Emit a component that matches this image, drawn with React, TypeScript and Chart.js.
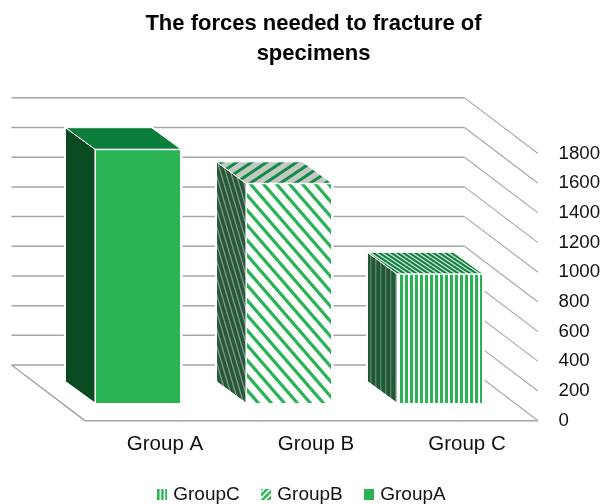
import React, { useEffect, useRef } from "react";
import { Chart, registerables } from "chart.js";

Chart.register(...registerables);

const titleLines = ["The forces needed to fracture of", "specimens"];
const categories = ["Group A", "Group B", "Group C"];
const groupNames = ["GroupA", "GroupB", "GroupC"];
const groupAValues = [1710, null, null];
const groupBValues = [null, 1480, null];
const groupCValues = [null, null, 870];

const FONT = "'Liberation Sans', Arial, sans-serif";
// depth of the 3D projection, in pixels
const BAR_DX = 29.5;
const BAR_DY = 21.5;
const FLOOR_FRONT_DX = 22.5;
const FLOOR_FRONT_DY = 17.7;
const FLOOR_BACK_DX = 51;
const FLOOR_BACK_DY = 38;

function tile(w: number, h: number, bg: string, fg: string, lw: number, kind: "v" | "down" | "up") {
  const c = document.createElement("canvas");
  c.width = w;
  c.height = h;
  const g = c.getContext("2d")!;
  g.fillStyle = bg;
  g.fillRect(0, 0, w, h);
  g.strokeStyle = fg;
  g.fillStyle = fg;
  g.lineWidth = lw;
  if (kind === "v") {
    g.fillRect(0, 0, lw, h);
  } else {
    for (const ox of [-2 * w, -w, 0, w, 2 * w]) {
      g.beginPath();
      if (kind === "down") {
        g.moveTo(ox - w, -h);
        g.lineTo(ox + 2 * w, 2 * h);
      } else {
        g.moveTo(ox - w, 2 * h);
        g.lineTo(ox + 2 * w, -h);
      }
      g.stroke();
    }
  }
  return c;
}

function stripes(w: number, h: number, bg: string, fg: string, lw: number, kind: "v" | "down" | "up") {
  return tile(w, h, bg, fg, lw, kind).getContext("2d")!.createPattern(tile(w, h, bg, fg, lw, kind), "repeat")!;
}

function swatch(fill: string | CanvasPattern) {
  const c = document.createElement("canvas");
  c.width = 10;
  c.height = 11;
  const g = c.getContext("2d")!;
  g.fillStyle = fill;
  g.fillRect(0, 0, 10, 11);
  return c;
}

export default function App() {
  const ref = useRef<HTMLCanvasElement>(null);
  useEffect(() => {
    const green = "#2AB354";
    const bFront = stripes(13, 15, "#FFFFFF", green, 3.2, "down");
    const cFront = stripes(5, 6, "#FFFFFF", green, 3, "v");
    const faces = [
      { side: "#0A4A20" as any, top: "#0B7E3B" as any },
      { side: stripes(5, 17, "#245A38", "#8A968E", 1.3, "down"), top: stripes(15, 10, "#C4C8C4", "#128A45", 3, "up") },
      { side: stripes(5, 6, "#1F5A36", "#5F7F6A", 1.4, "v"), top: stripes(6, 4, "#D6E8DA", "#0C7F3E", 2, "down") },
    ];
    const swatches = [swatch(green), swatch(stripes(6, 6, "#FFFFFF", green, 2.6, "up")), swatch(stripes(4, 6, "#FFFFFF", green, 2.4, "v"))];

    const depthPlugin = {
      id: "depth",
      beforeDatasetsDraw(chart: any) {
        const { ctx, chartArea, scales } = chart;
        const y = scales.y;
        ctx.save();
        ctx.strokeStyle = "#A6A6A6";
        const L = chartArea.left - FLOOR_BACK_DX;
        const R = chartArea.right - FLOOR_BACK_DX;
        const FX = chartArea.right + FLOOR_FRONT_DX;
        for (const v of y.ticks.map((t: any) => t.value)) {
          const p = y.getPixelForValue(v);
          ctx.lineWidth = 1.5;
          ctx.beginPath();
          ctx.moveTo(L, p - FLOOR_BACK_DY);
          ctx.lineTo(R, p - FLOOR_BACK_DY);
          ctx.stroke();
          ctx.lineWidth = 1.1;
          ctx.beginPath();
          ctx.moveTo(R, p - FLOOR_BACK_DY);
          ctx.lineTo(FX, p + FLOOR_FRONT_DY);
          ctx.stroke();
        }
        const p0 = y.getPixelForValue(0);
        ctx.lineWidth = 1.5;
        ctx.beginPath();
        ctx.moveTo(L, p0 - FLOOR_BACK_DY);
        ctx.lineTo(chartArea.left + FLOOR_FRONT_DX, p0 + FLOOR_FRONT_DY);
        ctx.lineTo(FX, p0 + FLOOR_FRONT_DY);
        ctx.stroke();

        chart.data.datasets.forEach((ds: any, i: number) => {
          chart.getDatasetMeta(i).data.forEach((bar: any, j: number) => {
            if (ds.data[j] == null) return;
            const l = bar.x - bar.width / 2;
            const r = bar.x + bar.width / 2;
            const t = bar.y;
            const b = bar.base;
            ctx.strokeStyle = "#FFFFFF";
            ctx.lineWidth = 3;
            // white halo hides the gridlines behind the block
            ctx.beginPath();
            ctx.moveTo(l, b);
            ctx.lineTo(l - BAR_DX, b - BAR_DY);
            ctx.lineTo(l - BAR_DX, t - BAR_DY);
            ctx.lineTo(r - BAR_DX, t - BAR_DY);
            ctx.lineTo(r, t);
            ctx.lineTo(r, b);
            ctx.closePath();
            ctx.fillStyle = "#FFFFFF";
            ctx.fill();
            ctx.stroke();
            ctx.lineWidth = 1;
            ctx.beginPath();
            ctx.moveTo(l, b);
            ctx.lineTo(l - BAR_DX, b - BAR_DY);
            ctx.lineTo(l - BAR_DX, t - BAR_DY);
            ctx.lineTo(l, t);
            ctx.closePath();
            ctx.fillStyle = faces[i].side;
            ctx.fill();
            ctx.stroke();
            ctx.beginPath();
            ctx.moveTo(l, t);
            ctx.lineTo(l - BAR_DX, t - BAR_DY);
            ctx.lineTo(r - BAR_DX, t - BAR_DY);
            ctx.lineTo(r, t);
            ctx.closePath();
            ctx.fillStyle = faces[i].top;
            ctx.fill();
            ctx.stroke();
          });
        });
        ctx.restore();
      },
    };

    const nudgePlugin = {
      id: "nudge",
      afterLayout(chart: any) {
        const tb = chart.titleBlock;
        if (tb) {
          tb.left -= 18.75;
          tb.right -= 18.75;
        }
        const lg = chart.legend;
        if (lg) {
          lg.left -= 29;
          lg.right -= 29;
          lg.top += 10;
          lg.bottom += 10;
        }
        chart.scales.x.bottom += 20;
      },
    };

    const chart = new Chart(ref.current!, {
      type: "bar",
      plugins: [depthPlugin, nudgePlugin],
      data: {
        labels: categories,
        datasets: [
          { label: groupNames[0], data: groupAValues, backgroundColor: green, borderColor: "#FFFFFF", borderWidth: 1 },
          { label: groupNames[1], data: groupBValues, backgroundColor: bFront, borderColor: "#FFFFFF", borderWidth: 1 },
          { label: groupNames[2], data: groupCValues, backgroundColor: cFront, borderColor: "#FFFFFF", borderWidth: 1 },
        ],
      } as any,
      options: {
        animation: false,
        responsive: false,
        devicePixelRatio: 1,
        layout: { padding: { left: 62.5, right: 0, top: 9, bottom: 0 } },
        datasets: { bar: { categoryPercentage: 0.57, barPercentage: 1 } },
        scales: {
          x: {
            stacked: true,
            grid: { display: false },
            border: { display: false },
            ticks: { color: "#111111", font: { family: FONT, size: 20.5 }, padding: 21, labelOffset: 27 },
            afterFit(scale: any) {
              scale.height = 47;
            },
          },
          y: {
            position: "right",
            min: 0,
            max: 1800,
            grid: { display: false },
            border: { display: false },
            ticks: {
              stepSize: 200,
              color: "#111111",
              font: { family: FONT, size: 18.7 },
              padding: 35,
              labelOffset: 17.7,
              callback: (v: any) => String(v),
            } as any,
            afterFit(scale: any) {
              scale.width = 86.5;
            },
          },
        } as any,
        plugins: {
          tooltip: { enabled: false },
          title: {
            display: true,
            text: titleLines,
            color: "#000000",
            font: { family: FONT, size: 22, weight: "bold", lineHeight: 1.36 },
            padding: { top: 0, bottom: 67 },
          },
          legend: {
            position: "bottom",
            reverse: true,
            labels: {
              color: "#111111",
              font: { family: FONT, size: 19 },
              usePointStyle: true,
              boxWidth: 3,
              boxHeight: 3,
              padding: 25,
              generateLabels: () =>
                groupNames.map((name, i) => ({
                  text: name,
                  fontColor: "#111111",
                  pointStyle: swatches[i],
                  fillStyle: "#FFFFFF",
                  strokeStyle: "#FFFFFF",
                  lineWidth: 0,
                  datasetIndex: i,
                  hidden: false,
                })),
            },
          },
        },
      } as any,
    });
    return () => chart.destroy();
  }, []);
  return (
    <div style={{ position: "fixed", left: 0, top: 0, width: 602, height: 504, background: "#FFFFFF" }}>
      <canvas ref={ref} width={602} height={504} style={{ display: "block" }} />
    </div>
  );
}
